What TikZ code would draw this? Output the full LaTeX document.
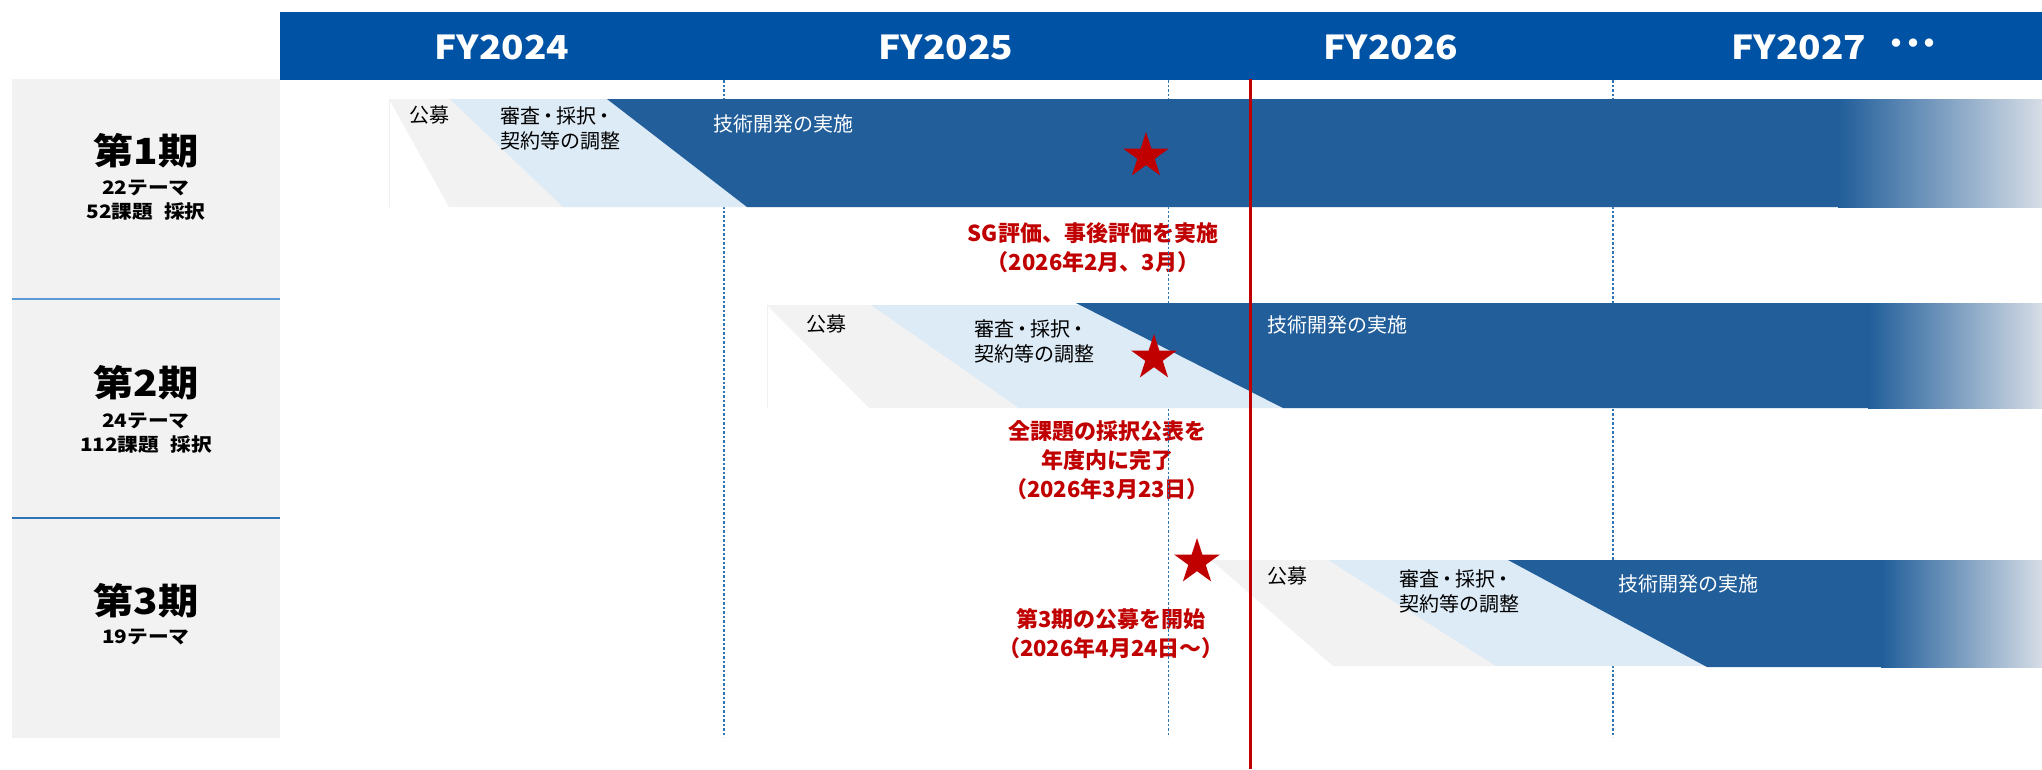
\documentclass[tikz,border=0pt]{standalone}
\usepackage{fontspec}
\newfontfamily\jp{Noto Sans CJK JP}
\newfontfamily\jpfy{Noto Sans CJK JP}[FakeStretch=1.12]
\usetikzlibrary{shapes.geometric}
\definecolor{hdr}{RGB}{0,83,164}
\definecolor{dk}{RGB}{33,94,154}
\definecolor{lb}{RGB}{221,235,247}
\definecolor{gy}{RGB}{242,242,242}
\definecolor{fadeend}{RGB}{214,221,230}
\definecolor{myred}{RGB}{192,0,0}
\definecolor{gridc}{RGB}{46,117,182}
\definecolor{divA}{RGB}{91,155,213}
\definecolor{divB}{RGB}{46,117,182}
\newcommand{\dt}{\hspace{-2pt}・\hspace{-2pt}}
\tikzset{
  fy/.style={font=\jpfy\bfseries\fontsize{33}{33}\selectfont, text=white, inner sep=0},
  phead/.style={font=\jpfy\bfseries\fontsize{36}{36}\selectfont, text=black, inner sep=0},
  psub/.style={font=\jpfy\bfseries\fontsize{18.5}{24}\selectfont, text=black, inner sep=0},
  lbl/.style={font=\jp\fontsize{20}{25}\selectfont, text=black, inner sep=0, align=left, anchor=west},
  wlbl/.style={font=\jp\fontsize{20}{25}\selectfont, text=white, inner sep=0, anchor=west},
  rednote/.style={font=\jp\bfseries\fontsize{22}{29}\selectfont, text=myred, inner sep=0, align=center},
  gridline/.style={gridc, line width=1.2pt, dash pattern=on 2.5pt off 2pt},
  redstar/.style={star, star points=5, star point ratio=2.618, fill=myred, draw=none, minimum size=48pt, inner sep=0},
  faint/.style={gray!12, line width=0.8pt}
}
\begin{document}
\begin{tikzpicture}[x=1pt,y=-1pt]
\useasboundingbox (0,0) rectangle (2042,769);
% left panel
\fill[gy] (12,79) rectangle (280,738);
\draw[divA, line width=2pt] (12,298.5) -- (280,298.5);
\draw[divB, line width=2pt] (12,517.5) -- (280,517.5);
\node[phead] (p1) at (146,151) {第1期};
\node[psub] (p1a) at (146,188) {22テーマ};
\node[psub] (p1b) at (146,212) {52課題\hspace{0.6em}採択};
\node[phead] (p2) at (146,383) {第2期};
\node[psub] (p2a) at (146,421) {24テーマ};
\node[psub] (p2b) at (146,445) {112課題\hspace{0.6em}採択};
\node[phead] (p3) at (146,601) {第3期};
\node[psub] (p3a) at (146,637) {19テーマ};
% header
\fill[hdr] (280,12) rectangle (2042,80);
\node[fy] (fy24) at (502,47) {FY2024};
\node[fy] (fy25) at (946,47) {FY2025};
\node[fy] (fy26) at (1391,47) {FY2026};
\node[fy] (fy27) at (1799,47) {FY2027};
\node[font=\jp\bfseries\fontsize{30}{30}\selectfont, text=white, inner sep=0] (dots) at (1913,47) {・\hspace{-13.5pt}・\hspace{-13.5pt}・};
% red notes
\node[rednote] (n1) at (1093,248) {SG評価、事後評価を実施\\（2026年2月、3月）};
\node[rednote] (n2) at (1107,460) {全課題の採択公表を\\年度内に完了\\（2026年3月23日）};
\node[rednote] (n3) at (1111,634) {第3期の公募を開始\\（2026年4月24日～）};
% grid
\foreach \x in {724,1168.5,1613} \draw[gridline] (\x,80) -- (\x,737);
% row 1
\fill[gy] (389,99) -- (2042,99) -- (2042,207) -- (449,207) -- cycle;
\draw[faint] (389,99) -- (389,207);
\fill[lb] (450,99) -- (2042,99) -- (2042,207) -- (563,207) -- cycle;
\fill[dk] (607,99) -- (1839,99) -- (1839,207) -- (747,207) -- cycle;
\fill[left color=dk, right color=fadeend] (1838,99) rectangle (2042,207);
\node[lbl] (r1a) at (409,115) {公募};
\node[lbl] (r1b) at (500,128.5) {審査\dt 採択\hspace{-2pt}・\\契約等の調整};
\node[wlbl] (r1c) at (713,124) {技術開発の実施};
% row 2
\fill[gy] (767,305) -- (2042,305) -- (2042,408) -- (869,408) -- cycle;
\draw[faint] (767,305) -- (767,408);
\fill[lb] (871,305) -- (2042,305) -- (2042,408) -- (1019,408) -- cycle;
\fill[dk] (1076,303) -- (1869,303) -- (1869,408) -- (1283,408) -- cycle;
\fill[left color=dk, right color=fadeend] (1868,303) rectangle (2042,408);
\node[lbl] (r2a) at (806,323.5) {公募};
\node[lbl] (r2b) at (974,341) {審査\dt 採択\hspace{-2pt}・\\契約等の調整};
\node[wlbl] (r2c) at (1267,325) {技術開発の実施};
% row 3
\fill[gy] (1211,560) -- (2042,560) -- (2042,666) -- (1333,666) -- cycle;
\fill[lb] (1328,560) -- (2042,560) -- (2042,666) -- (1496,666) -- cycle;
\fill[dk] (1508,560) -- (1882,560) -- (1882,667) -- (1707,667) -- cycle;
\fill[left color=dk, right color=fadeend] (1881,560) rectangle (2042,667);
\node[lbl] (r3a) at (1267,576) {公募};
\node[lbl] (r3b) at (1399,591.5) {審査\dt 採択\hspace{-2pt}・\\契約等の調整};
\node[wlbl] (r3c) at (1618,584) {技術開発の実施};
% stars
\node[redstar] (s1) at (1146,156) {};
\node[redstar] (s2) at (1154,358) {};
\node[redstar] (s3) at (1197,562) {};
% red line
\draw[myred, line width=3pt] (1250,79) -- (1250,769);
\end{tikzpicture}
\end{document}
